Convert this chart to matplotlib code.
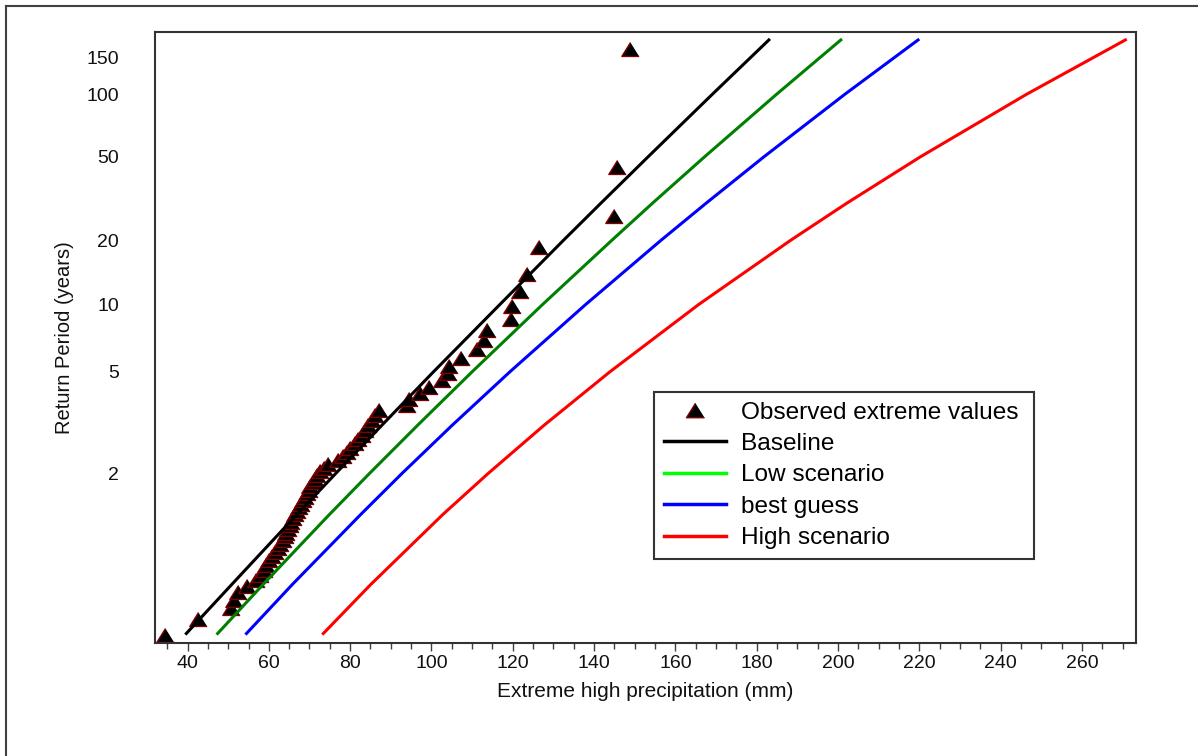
import numpy as np
import matplotlib.pyplot as plt
from matplotlib.lines import Line2D
from matplotlib.ticker import MultipleLocator, NullLocator

plt.rcParams['font.family'] = ['Liberation Sans', 'DejaVu Sans']

# return periods (years) at which the fitted curves were read
return_periods = [1.016, 1.1, 1.5, 2, 3, 5, 10, 20, 30, 50, 100, 183]
baseline = [39.7, 50.9, 66.9, 76.5, 87.8, 100.5, 116.8, 132.5, 141.7, 153.3, 169.1, 183.0]
low_scenario = [47.4, 58.6, 74.9, 84.8, 96.6, 110.0, 127.3, 144.4, 154.4, 167.2, 184.9, 200.7]
best_guess = [54.5, 65.8, 82.6, 92.8, 105.1, 119.3, 137.9, 156.5, 167.6, 181.8, 201.7, 219.7]
high_scenario = [73.4, 85.1, 102.8, 114.0, 127.7, 143.9, 165.7, 188.4, 202.2, 220.3, 246.4, 270.7]

# observed annual extremes (mm) and their return periods (years)
obs_mm = [34.4, 42.5, 50.7, 51.4, 52.4, 54.6, 56.8, 57.8, 58.7, 59.3,
          60.0, 60.7, 61.5, 62.2, 62.8, 63.4, 63.9, 64.2, 64.6, 65.2,
          65.5, 65.9, 66.4, 66.9, 67.4, 67.9, 68.4, 68.9, 69.4, 69.8,
          70.2, 70.8, 71.3, 71.8, 72.6, 73.5, 74.5, 77.0, 78.2, 79.2,
          79.9, 81.2, 81.9, 82.9, 83.6, 84.4, 85.3, 86.1, 87.1, 93.9,
          94.5, 97.2, 99.4, 102.7, 104.0, 104.4, 107.2, 111.1, 113.0, 113.6,
          119.5, 119.7, 121.9, 123.4, 126.5, 144.9, 145.7, 148.8]
obs_T = [1.0147, 1.0299, 1.0455, 1.0615, 1.0781, 1.0952, 1.1129, 1.1311, 1.15, 1.1695,
         1.1897, 1.2105, 1.2321, 1.2545, 1.2778, 1.3019, 1.3269, 1.3529, 1.38, 1.4082,
         1.4375, 1.4681, 1.5, 1.5333, 1.5682, 1.6047, 1.6429, 1.6829, 1.725, 1.7692,
         1.8158, 1.8649, 1.9167, 1.9714, 2.0294, 2.0909, 2.1563, 2.2258, 2.3, 2.3793,
         2.4643, 2.5556, 2.6538, 2.76, 2.875, 3.0, 3.1364, 3.2857, 3.45, 3.6316,
         3.8333, 4.0588, 4.3125, 4.6, 4.9286, 5.3077, 5.75, 6.2727, 6.9, 7.6667,
         8.625, 9.857, 11.5, 13.8, 18.6, 26.1, 44.7, 165]

y_ticks = [2, 5, 10, 20, 50, 100, 150]
x_ticks = list(range(40, 261, 20))


def gumbel(T):
    T = np.asarray(T, dtype=float)
    with np.errstate(all='ignore'):
        return -np.log(-np.log(1 - 1 / T))


def gumbel_inv(u):
    u = np.asarray(u, dtype=float)
    with np.errstate(all='ignore'):
        return 1 / (1 - np.exp(-np.exp(-u)))


tri = [(0, 0.8), (-1, -0.8), (1, -0.8)]

fig = plt.figure(figsize=(11.98, 7.56), dpi=100)
ax = fig.add_axes([0.1294, 0.1495, 0.8188, 0.8082])
ax.set_yscale('function', functions=(gumbel, gumbel_inv))

ax.plot(obs_mm, obs_T, ls='none', marker=tri, ms=12.5, mfc='black', mec='#800000', mew=1)
ax.plot(baseline, return_periods, color='black', lw=2.2)
ax.plot(low_scenario, return_periods, color='#008000', lw=2.2)
ax.plot(best_guess, return_periods, color='#0000ff', lw=2.2)
ax.plot(high_scenario, return_periods, color='#ff0000', lw=2.2)

ax.set_xlim(32, 273.3)
ax.set_ylim(1.01, 200)

ax.set_xticks(x_ticks)
ax.xaxis.set_minor_locator(MultipleLocator(5))
ax.set_yticks(y_ticks)
ax.set_yticklabels([str(t) for t in y_ticks])
ax.yaxis.set_minor_locator(NullLocator())

ax.tick_params(axis='x', which='major', direction='out', length=6, width=1,
               color='#404040', labelsize=14, pad=3, labelcolor='#111111')
ax.tick_params(axis='x', which='minor', direction='out', length=4, width=1, color='#404040')
ax.tick_params(axis='y', length=0, pad=26, labelsize=14, labelcolor='#111111')

for s in ax.spines.values():
    s.set_linewidth(1.5)
    s.set_color('#333333')

ax.set_xlabel('Extreme high precipitation (mm)', fontsize=15, labelpad=7, color='#111111')
ax.set_ylabel('Return Period (years)', fontsize=14.5, labelpad=8.5, color='#111111')

handles = [
    Line2D([], [], ls='none', marker=tri, ms=13, mfc='black', mec='#800000', mew=1),
    Line2D([], [], color='black', lw=2.5),
    Line2D([], [], color='#00ff00', lw=2.5),
    Line2D([], [], color='#0000ff', lw=2.5),
    Line2D([], [], color='#ff0000', lw=2.5),
]
labels = ['Observed extreme values', 'Baseline', 'Low scenario', 'best guess', 'High scenario']
leg = ax.legend(handles, labels, loc='upper left', bbox_to_anchor=(0.5087, 0.1412, 0.3876, 0.2701),
                mode='expand', borderaxespad=0, fontsize=17.6, fancybox=False, edgecolor='#333333',
                handlelength=2.55, handletextpad=0.6, labelspacing=0.38, borderpad=0.4)
leg.get_frame().set_linewidth(1.5)
leg.get_frame().set_alpha(1)

# outer frame of the picture
fig.add_artist(Line2D([0.005, 0.005], [0, 0.992], transform=fig.transFigure, color='#404040', lw=1.5))
fig.add_artist(Line2D([0.005, 1], [0.992, 0.992], transform=fig.transFigure, color='#404040', lw=1.5))

fig.savefig('out.png', dpi=100)
